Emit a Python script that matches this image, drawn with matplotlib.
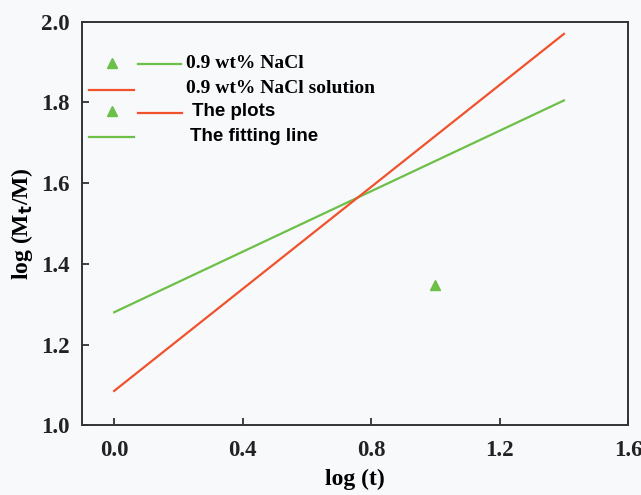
import numpy as np
import matplotlib
matplotlib.use("Agg")
import matplotlib.pyplot as plt

# dane
x_fit = [0.0, 1.4]
y_green = [1.28, 1.805]    # linia dopasowania (zielona)
y_red = [1.085, 1.97]      # linia dopasowania (czerwona)
x_pts = [1.0]
y_pts = [1.347]

x_ticks = [0.0, 0.4, 0.8, 1.2, 1.6]
y_ticks = [1.0, 1.2, 1.4, 1.6, 1.8, 2.0]

GREEN = '#6cbf47'
RED = '#f0522c'
BG = '#f8f9fb'

fig = plt.figure(figsize=(6.41, 4.95), dpi=100, facecolor=BG)
ax = fig.add_axes([0.128, 0.141, 0.852, 0.815], facecolor=BG)

ax.plot(x_fit, y_green, color=GREEN, lw=1.6)
ax.plot(x_fit, y_red, color=RED, lw=1.6)
ax.plot(x_pts, y_pts, linestyle='none', marker='^', color=GREEN, ms=7)

ax.set_xlim(-0.1, 1.6)
ax.set_ylim(1.0, 2.0)
ax.set_xticks(x_ticks)
ax.set_yticks(y_ticks)
ax.set_xticklabels([f'{v:.1f}' for v in x_ticks])
ax.set_yticklabels([f'{v:.1f}' for v in y_ticks])

serif = {'family': 'Liberation Serif', 'weight': 'bold'}
for lab in ax.get_xticklabels() + ax.get_yticklabels():
    lab.set_fontfamily('Liberation Serif')
    lab.set_fontweight('bold')
    lab.set_fontsize(16.5)
ax.tick_params(direction='in', length=5, width=1.2, colors='#222222')
ax.tick_params(axis='x', pad=11)
ax.tick_params(axis='y', pad=9)
for s in ax.spines.values():
    s.set_linewidth(1.4)
    s.set_color('#333333')

ax.set_xlabel('log (t)', fontdict=serif, fontsize=17, labelpad=5)
ax.set_ylabel(r'log (M$_\mathbf{t}$/M)', fontdict=serif, fontsize=17, labelpad=4)

# ręcznie rysowana legenda (w pikselach obrazu przeliczonych na współrzędne osi)
tr = ax.transAxes
def px(xp, yp):
    # piksel obrazu -> współrzędne osi
    x0, x1, y0, y1 = 82, 628, 22, 425
    return (xp - x0) / (x1 - x0), (y1 - yp) / (y1 - y0)

def seg(xa, xb, yp, c):
    a = px(xa, yp)
    b = px(xb, yp)
    ax.plot([a[0], b[0]], [a[1], b[1]], color=c, lw=1.6, transform=tr, clip_on=False)

def tri(xp, yp):
    p = px(xp, yp)
    ax.plot([p[0]], [p[1]], marker='^', color=GREEN, ms=7.5, transform=tr, linestyle='none')

def txt(xp, yp, s, fam, size):
    p = px(xp, yp)
    ax.text(p[0], p[1], s, transform=tr, va='center', ha='left',
            fontfamily=fam, fontweight='bold', fontsize=size)

tri(112, 63)
seg(138, 181, 64, GREEN)
txt(186, 64, '0.9 wt% NaCl', 'Liberation Serif', 14)

seg(89, 134, 90, RED)
txt(186, 89, '0.9 wt% NaCl solution', 'Liberation Serif', 14)

tri(112, 111)
seg(138, 182, 113, RED)
txt(192, 112, 'The plots', 'Liberation Sans', 13.5)

seg(89, 134, 137, GREEN)
txt(190, 137, 'The fitting line', 'Liberation Sans', 13.5)

fig.savefig('out.png', dpi=100, facecolor=BG)
